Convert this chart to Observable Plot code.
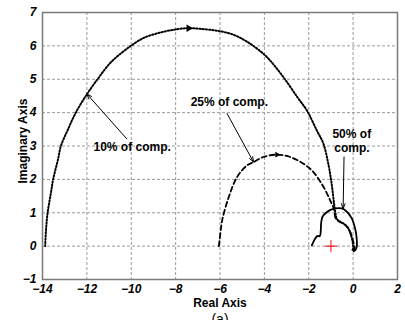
<!DOCTYPE html>
<html>
<head>
<meta charset="utf-8">
<script src="https://cdn.jsdelivr.net/npm/d3@7"></script>
<script src="https://cdn.jsdelivr.net/npm/@observablehq/plot@0.6"></script>
<style>
  html, body { margin: 0; padding: 0; background: #fff; }
  #chart svg { display: block; }
</style>
</head>
<body>
<div id="chart"></div>
<script>
// Tick values
const xTicks = [-14, -12, -10, -8, -6, -4, -2, 0, 2];
const yTicks = [-1, 0, 1, 2, 3, 4, 5, 6, 7];

// 10% of compensation (dotted)
const c10x = [-13.88, -13.84, -13.77, -13.62, -13.52, -13.3, -13.17, -12.85, -12.5, -12.0, -11.52, -10.93, -10.1, -9.43, -8.68, -7.93, -7.41, -6.88, -6.1, -5.38, -4.63, -3.88, -3.14, -2.5, -2.08, -1.64, -1.34, -1.12, -0.97, -0.86, -0.8, -0.72, -0.55, -0.4, -0.25, -0.12, -0.02, 0.0, -0.05];
const c10y = [0, 0.5, 1.0, 1.6, 2.0, 2.6, 3.0, 3.5, 4.0, 4.55, 5.0, 5.5, 5.96, 6.24, 6.4, 6.5, 6.53, 6.51, 6.45, 6.33, 6.06, 5.66, 5.06, 4.45, 4.06, 3.47, 3.07, 2.47, 1.88, 1.28, 1.0, 0.8, 0.72, 0.66, 0.57, 0.38, 0.12, -0.08, -0.12];

// 25% of compensation (dashed)
const c25x = [-6.05, -5.98, -5.9, -5.6, -5.23, -4.78, -4.48, -4.04, -3.43, -2.84, -2.24, -1.79, -1.34, -1.04, -0.85, -0.8, -0.62, -0.38, -0.15, 0.0, 0.07, 0.03];
const c25y = [0, 0.4, 0.78, 1.48, 2.07, 2.42, 2.52, 2.67, 2.74, 2.67, 2.47, 2.22, 1.78, 1.38, 1.08, 0.85, 0.73, 0.65, 0.45, 0.15, -0.08, -0.14];

// 50% of compensation (solid)
const c50x = [-1.86, -1.75, -1.62, -1.5, -1.46, -1.44, -1.38, -1.22, -1.04, -0.81, -0.51, -0.28, -0.06, 0.09, 0.16, 0.16, 0.09, 0.02];
const c50y = [0.02, 0.18, 0.3, 0.3, 0.45, 0.7, 0.88, 1.0, 1.08, 1.13, 1.13, 1.03, 0.83, 0.53, 0.23, -0.03, -0.13, -0.15];

// Direction markers on curves
const dirX = [-7.41, -3.43];
const dirY = [6.53, 2.74];
const dirR = [4, 2.5];

// Annotations
const labelText = ["10% of comp.", "25% of comp.", "50% of", "comp."];
const labelX = [-9.96, -5.58, -0.06, -0.05];
const labelY = [2.96, 4.30, 3.34, 2.95];
const arrowX1 = [-10.21, -5.68, -0.41];
const arrowY1 = [3.22, 3.97, 2.67];
const arrowX2 = [-12.0, -4.49, -0.45];
const arrowY2 = [4.56, 2.52, 1.12];

// Critical point
const critX = [-1];
const critY = [0];

const toPts = (xs, ys) => xs.map((x, i) => ({x, y: ys[i]}));
const c10 = toPts(c10x, c10y);
const c25 = toPts(c25x, c25y);
const c50 = toPts(c50x, c50y);
const dirs = dirX.map((x, i) => ({x, y: dirY[i], r: dirR[i]}));
const labels = labelText.map((t, i) => ({t, x: labelX[i], y: labelY[i]}));
const arrows = arrowX1.map((x1, i) => ({x1, y1: arrowY1[i], x2: arrowX2[i], y2: arrowY2[i]}));
const crit = toPts(critX, critY);

const chart = Plot.plot({
  width: 405,
  height: 320,
  marginLeft: 42,
  marginRight: 8,
  marginTop: 12,
  marginBottom: 41,
  style: {fontFamily: "'Liberation Sans', Arial, sans-serif", fontSize: "12px", background: "#fff", overflow: "hidden"},
  x: {domain: [-14, 2]},
  y: {domain: [-1, 7]},
  marks: [
    Plot.gridX(xTicks, {stroke: "#9a9a9a", strokeOpacity: 1, strokeDasharray: "3,2"}),
    Plot.gridY(yTicks, {stroke: "#9a9a9a", strokeOpacity: 1, strokeDasharray: "3,2"}),
    Plot.frame({stroke: "#7a7a7a", strokeWidth: 1.5}),
    Plot.axisX(xTicks, {tickSize: 0, tickPadding: 5, fontWeight: "bold", fontStyle: "italic", fontSize: 12, label: null}),
    Plot.axisY(yTicks, {tickSize: 0, tickPadding: 6, fontWeight: "bold", fontStyle: "italic", fontSize: 12, label: null}),
    Plot.text(["Real Axis"], {frameAnchor: "bottom", lineAnchor: "middle", textAnchor: "middle", dy: 24, fontWeight: "bold", fontSize: 12}),
    Plot.text(["(a)"], {frameAnchor: "bottom", lineAnchor: "top", textAnchor: "middle", dy: 35, fontSize: 14}),
    Plot.text(["Imaginary Axis"], {frameAnchor: "left", lineAnchor: "middle", textAnchor: "middle", dx: -19, dy: -5, rotate: -90, fontWeight: "bold", fontSize: 12}),
    Plot.line(c10, {x: "x", y: "y", curve: "catmull-rom", stroke: "#000", strokeWidth: 2, strokeDasharray: "1.3,1.9"}),
    Plot.line(c25, {x: "x", y: "y", curve: "catmull-rom", stroke: "#000", strokeWidth: 1.8, strokeDasharray: "5,3"}),
    Plot.line(c50, {x: "x", y: "y", curve: "catmull-rom", stroke: "#000", strokeWidth: 1.8}),
    Plot.dot(dirs, {x: "x", y: "y", r: "r", symbol: "triangle2", rotate: 90, fill: "#000"}),
    Plot.dot(crit, {x: "x", y: "y", r: 4, symbol: "plus", stroke: "red", fill: "none", strokeWidth: 1}),
    Plot.arrow(arrows, {x1: "x1", y1: "y1", x2: "x2", y2: "y2", stroke: "#000", strokeWidth: 1, headLength: 8, headAngle: 40}),
    Plot.text(labels, {x: "x", y: "y", text: "t", fontWeight: "bold", fontSize: 12, fill: "#000"})
  ]
});
chart.style.overflow = "hidden";
document.getElementById("chart").append(chart);
</script>
</body>
</html>
